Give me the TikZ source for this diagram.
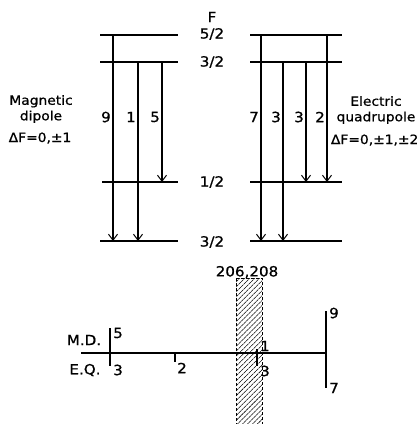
\documentclass[tikz,border=0pt]{standalone}
\usepackage{fontspec}
\setmainfont{DejaVu Sans}[FakeStretch=1.08,FakeBold=0.8]
\usetikzlibrary{arrows.meta,patterns.meta}
\begin{document}
\begin{tikzpicture}[x=1pt,y=-1pt,
  level/.style={line width=1.1pt},
  trans/.style={line width=1.1pt,-{Straight Barb[length=6pt,width=9pt,line width=1pt]}},
  lbl/.style={font=\fontsize{14}{14}\selectfont, inner sep=1pt},
  txt/.style={font=\fontsize{12.8}{15.5}\selectfont, align=center, inner sep=0pt},
  axis/.style={line width=1.4pt},
  tick/.style={line width=1.8pt},
  hatch/.style={draw=black, densely dashed, line width=0.4pt,
    pattern={Lines[angle=45,distance=3.5pt,line width=0.55pt]}}]
\useasboundingbox (0,0) rectangle (419,424);

% ---------- level lines ----------
\coordinate (la1) at (100,35);  \coordinate (lb1) at (178,35);
\coordinate (la2) at (100,62);  \coordinate (lb2) at (178,62);
\coordinate (la3) at (102,182); \coordinate (lb3) at (178,182);
\coordinate (la4) at (100,241); \coordinate (lb4) at (178,241);
\coordinate (ra1) at (250,35);  \coordinate (rb1) at (342,35);
\coordinate (ra2) at (250,62);  \coordinate (rb2) at (342,62);
\coordinate (ra3) at (250,182); \coordinate (rb3) at (342,182);
\coordinate (ra4) at (250,241); \coordinate (rb4) at (342,241);
\foreach \i in {1,2,3,4}{
  \draw[level] (la\i) -- (lb\i);
  \draw[level] (ra\i) -- (rb\i);
}

% ---------- F labels ----------
\node[lbl] (fF) at (212,17) {F};
\node[lbl] (f1) at (212,34) {5/2};
\node[lbl] (f2) at (212,62) {3/2};
\node[lbl] (f3) at (212,182) {1/2};
\node[lbl] (f4) at (212,242) {3/2};

% ---------- magnetic dipole transitions ----------
\coordinate (m9a) at (113,35);  \coordinate (m9b) at (113,241);
\coordinate (m1a) at (138,62);  \coordinate (m1b) at (138,241);
\coordinate (m5a) at (162,62);  \coordinate (m5b) at (162,182);
\draw[trans] (m9a) -- (m9b);
\draw[trans] (m1a) -- (m1b);
\draw[trans] (m5a) -- (m5b);
\node[lbl,anchor=east] (t9) at (112,117) {9};
\node[lbl,anchor=east] (t1) at (137,117) {1};
\node[lbl,anchor=east] (t5) at (161,117) {5};

% ---------- electric quadrupole transitions ----------
\coordinate (e7a) at (261,35);  \coordinate (e7b) at (261,241);
\coordinate (e3a) at (283,62);  \coordinate (e3b) at (283,241);
\coordinate (e3c) at (306,62);  \coordinate (e3d) at (306,182);
\coordinate (e2a) at (327,35);  \coordinate (e2b) at (327,182);
\draw[trans] (e7a) -- (e7b);
\draw[trans] (e3a) -- (e3b);
\draw[trans] (e3c) -- (e3d);
\draw[trans] (e2a) -- (e2b);
\node[lbl,anchor=east] (t7) at (260,117) {7};
\node[lbl,anchor=east] (t3a) at (282,117) {3};
\node[lbl,anchor=east] (t3b) at (305,117) {3};
\node[lbl,anchor=east] (t2) at (326,117) {2};

% ---------- side texts ----------
\node[txt] (mag) at (41,109) {Magnetic\\dipole};
\node[txt] (mdf) at (40,138) {ΔF=0,±1};
\node[txt] (ele) at (376,110) {Electric\\quadrupole};
\node[txt,anchor=east] (edf) at (418.5,140) {ΔF=0,±1,±2};

% ---------- lower spectrum ----------
\path[hatch] (236,278) rectangle (262,426);
\node[lbl] (iso) at (247,272) {206,208};

\coordinate (ax0) at (81,353);  \coordinate (ax1) at (327,353);
\draw[axis] (ax0) -- (ax1);

\coordinate (k1a) at (110,328); \coordinate (k1b) at (110,366);
\coordinate (k2a) at (175,353); \coordinate (k2b) at (175,362);
\coordinate (k3a) at (257,349); \coordinate (k3b) at (257,366);
\coordinate (k4a) at (326,311); \coordinate (k4b) at (326,388);
\draw[tick] (k1a) -- (k1b);
\draw[tick] (k2a) -- (k2b);
\draw[tick] (k3a) -- (k3b);
\draw[tick] (k4a) -- (k4b);

\node[lbl] (md) at (84,340) {M.D.};
\node[lbl] (eq) at (85,370) {E.Q.};
\node[lbl] (b5) at (118,333) {5};
\node[lbl] (b3) at (118,370) {3};
\node[lbl] (b2) at (182,368) {2};
\node[lbl] (b1) at (265,346) {1};
\node[lbl] (b3r) at (265,371) {3};
\node[lbl] (b9) at (334,313) {9};
\node[lbl] (b7) at (334,388) {7};
\end{tikzpicture}
\end{document}
